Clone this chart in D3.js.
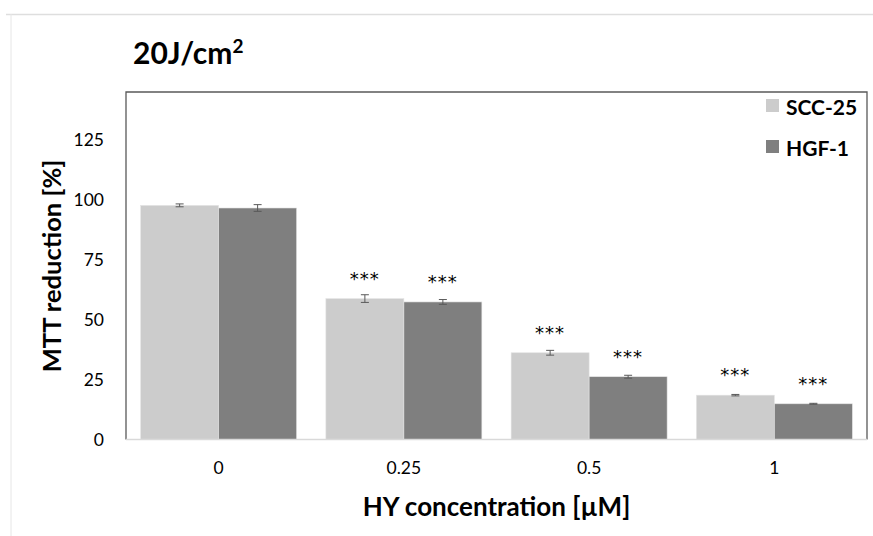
<!DOCTYPE html>
<html><head><meta charset="utf-8">
<script src="https://cdn.jsdelivr.net/npm/d3@7"></script>
<style>
html,body{margin:0;padding:0;background:#fff;}
svg{display:block;font-family:Lato,"Open Sans",sans-serif;}
</style></head>
<body><svg id="chart" width="873" height="536"></svg>
<script>
const categories = ["0", "0.25", "0.5", "1"];
const seriesNames = ["SCC-25", "HGF-1"];
const sccValues = [97.7, 58.8, 36.2, 18.5];
const hgfValues = [96.6, 57.4, 26.2, 14.9];
const sccErrors = [0.6, 1.6, 1.0, 0.3];
const hgfErrors = [1.4, 1.0, 0.6, 0.2];
const sccSignif = ["", "***", "***", "***"];
const hgfSignif = ["", "***", "***", "***"];
const yTicks = [0, 25, 50, 75, 100, 125];
const seriesColors = ["#cccccc", "#7f7f7f"];

const svg = d3.select("#chart");
const W = 873, H = 536;
const plot = {left: 126, right: 867, top: 92, bottom: 439.5};

// outer frame
svg.append("line").attr("x1", 6).attr("x2", W).attr("y1", 14.5).attr("y2", 14.5)
  .attr("stroke", "#dedede").attr("stroke-width", 1.5);
svg.append("line").attr("x1", 11).attr("x2", 11).attr("y1", 14).attr("y2", H)
  .attr("stroke", "#e6e6e6").attr("stroke-width", 1);

const x0 = d3.scaleBand().domain(categories).range([plot.left, plot.right])
  .paddingInner(0.158).paddingOuter(0.079);
const x1 = d3.scaleBand().domain(seriesNames).range([0, x0.bandwidth()]);
const y = d3.scaleLinear().domain([0, 145]).range([plot.bottom, plot.top]);

const rows = categories.map((c, i) => ({
  cat: c,
  vals: [
    {s: seriesNames[0], v: sccValues[i], e: sccErrors[i], sig: sccSignif[i], col: seriesColors[0]},
    {s: seriesNames[1], v: hgfValues[i], e: hgfErrors[i], sig: hgfSignif[i], col: seriesColors[1]}
  ]
}));

const g = svg.append("g").selectAll("g").data(rows).join("g")
  .attr("transform", d => `translate(${x0(d.cat)},0)`);

g.selectAll("rect").data(d => d.vals).join("rect")
  .attr("x", d => x1(d.s)).attr("width", x1.bandwidth())
  .attr("y", d => y(d.v)).attr("height", d => y(0) - y(d.v))
  .attr("fill", d => d.col).attr("stroke", "#e4e4e4").attr("stroke-width", 0.6);

// error bars
const eg = g.selectAll("g.err").data(d => d.vals).join("g").attr("class", "err")
  .attr("stroke", "#595959").attr("stroke-width", 1);
eg.append("line")
  .attr("x1", d => x1(d.s) + x1.bandwidth() / 2).attr("x2", d => x1(d.s) + x1.bandwidth() / 2)
  .attr("y1", d => y(d.v + d.e)).attr("y2", d => y(d.v - d.e));
eg.append("line")
  .attr("x1", d => x1(d.s) + x1.bandwidth() / 2 - 4).attr("x2", d => x1(d.s) + x1.bandwidth() / 2 + 4)
  .attr("y1", d => y(d.v + d.e)).attr("y2", d => y(d.v + d.e));
eg.append("line")
  .attr("x1", d => x1(d.s) + x1.bandwidth() / 2 - 4).attr("x2", d => x1(d.s) + x1.bandwidth() / 2 + 4)
  .attr("y1", d => y(d.v - d.e)).attr("y2", d => y(d.v - d.e));

// significance stars
g.selectAll("text.sig").data(d => d.vals).join("text").attr("class", "sig")
  .attr("x", d => x1(d.s) + x1.bandwidth() / 2)
  .attr("y", d => y(d.v) - 24 + 10)
  .attr("text-anchor", "middle").attr("font-size", 18).attr("letter-spacing", 1)
  .attr("font-family", "'DejaVu Sans', sans-serif")
  .attr("fill", "#000").text(d => d.sig);

// plot border (left, top, right dark; bottom light)
svg.append("path")
  .attr("d", `M${plot.left},${plot.bottom}V${plot.top}H${plot.right}V${plot.bottom}`)
  .attr("fill", "none").attr("stroke", "#595959").attr("stroke-width", 1.3);
svg.append("line").attr("x1", plot.left).attr("x2", plot.right)
  .attr("y1", plot.bottom).attr("y2", plot.bottom)
  .attr("stroke", "#d9d9d9").attr("stroke-width", 1.5);

// y axis
const yAxis = d3.axisLeft(y).tickValues(yTicks).tickSize(0).tickPadding(22);
const ya = svg.append("g").attr("transform", `translate(${plot.left},0)`).call(yAxis);
ya.select(".domain").remove();
ya.selectAll("text").attr("font-size", 17.5).attr("fill", "#000")
  .attr("font-family", "Lato, sans-serif");

// x axis
const xAxis = d3.axisBottom(x0).tickSize(0).tickPadding(22);
const xa = svg.append("g").attr("transform", `translate(0,${plot.bottom})`).call(xAxis);
xa.select(".domain").remove();
xa.selectAll("text").attr("font-size", 17.5).attr("fill", "#000")
  .attr("font-family", "Lato, sans-serif");

// axis titles
svg.append("text").attr("transform", "translate(51,266) rotate(-90)")
  .attr("text-anchor", "middle").attr("dominant-baseline", "central")
  .attr("font-size", 25.5).attr("font-weight", "bold").attr("fill", "#000")
  .text("MTT reduction [%]");
svg.append("text").attr("x", (plot.left + plot.right) / 2).attr("y", 506)
  .attr("text-anchor", "middle").attr("dominant-baseline", "central")
  .attr("font-size", 26).attr("font-weight", "bold").attr("fill", "#000")
  .text("HY concentration [µM]");

// chart title
const t = svg.append("text").attr("x", 133).attr("y", 64)
  .attr("font-size", 30).attr("font-weight", "bold").attr("fill", "#000");
t.append("tspan").text("20J/cm");
t.append("tspan").attr("font-size", 19).attr("dy", -11).text("2");

// legend
const lg = svg.append("g").selectAll("g").data(seriesNames).join("g")
  .attr("transform", (d, i) => `translate(766,${106 + i * 41})`);
lg.append("rect").attr("x", 0).attr("y", -7).attr("width", 13).attr("height", 13)
  .attr("fill", (d, i) => seriesColors[i]);
lg.append("text").attr("x", 20).attr("y", 0).attr("dominant-baseline", "central")
  .attr("font-size", 21).attr("font-weight", "bold").attr("fill", "#000").text(d => d);
</script></body></html>
